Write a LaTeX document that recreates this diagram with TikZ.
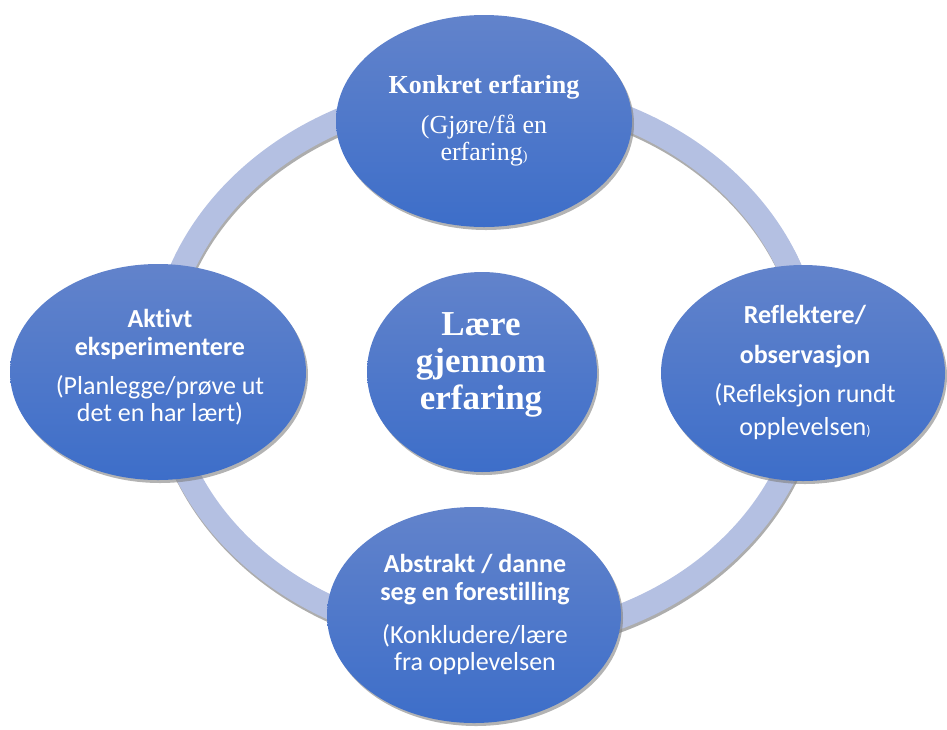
\documentclass[tikz,border=0pt]{standalone}
\usepackage{fontspec}
\setmainfont{Liberation Serif}
\newfontfamily\calibri[Ligatures={TeX,NoCommon}]{Carlito}
\usetikzlibrary{shapes.geometric,shadows}
\definecolor{ringblue}{RGB}{180,192,226}
\definecolor{topblue}{RGB}{98,131,203}
\definecolor{botblue}{RGB}{61,110,201}

\begin{document}
\begin{tikzpicture}[x=1pt,y=-1pt]
      \useasboundingbox (0,0) rectangle (947,729);

      % ring behind the bubbles
      \draw[line width=24pt,black!32] (487,369) ellipse [x radius=325,y radius=275];
      \draw[line width=24pt,ringblue] (486,366) ellipse [x radius=325,y radius=275];

      \begin{scope}[every node/.style={ellipse,inner sep=0pt,top color=topblue,bottom color=botblue,
          drop shadow={shadow xshift=2pt,shadow yshift=-3pt,fill=black!50,opacity=.6}}]
        \node[minimum width=296pt,minimum height=212pt] (1) at (484,121) {};
        \node[minimum width=284pt,minimum height=216pt] (2) at (803,373) {};
        \node[minimum width=294pt,minimum height=216pt] (3) at (474,615) {};
        \node[minimum width=296pt,minimum height=216pt] (4) at (158,372) {};
        \node[minimum width=230pt,minimum height=200pt] (5) at (482,372) {};
      \end{scope}

      \begin{scope}[every node/.style={text=white,align=center,inner sep=0pt}]
        \node[font=\fontsize{26}{27}\selectfont] (t1) at (484,121)
          {\textbf{Konkret erfaring}\\[13pt] (Gjøre/få en\\ erfaring{\fontsize{14}{14}\selectfont)}};
        \node[font=\calibri\fontsize{26}{27}\selectfont] (t2) at (805,372)
          {\textbf{Reflektere/}\\[13pt] \textbf{observasjon}\\[12pt] (Refleksjon rundt\\[6pt] opplevelsen{\fontsize{14}{14}\selectfont)}};
        \node[font=\calibri\fontsize{26}{27}\selectfont] (t3) at (475,614)
          {\textbf{Abstrakt / danne}\\[1pt] \textbf{seg en forestilling}\\[16pt] (Konkludere/lære\\ fra opplevelsen};
        \node[font=\calibri\fontsize{26}{27}\selectfont] (t4) at (160,367)
          {\textbf{Aktivt}\\[1pt] \textbf{eksperimentere}\\[12pt] (Planlegge/prøve ut\\ det en har lært)};
        \node[font=\bfseries\fontsize{35}{37}\selectfont] (t5) at (481,365)
          {Lære\\ gjennom\\ erfaring};
      \end{scope}

    \end{tikzpicture}
\end{document}
